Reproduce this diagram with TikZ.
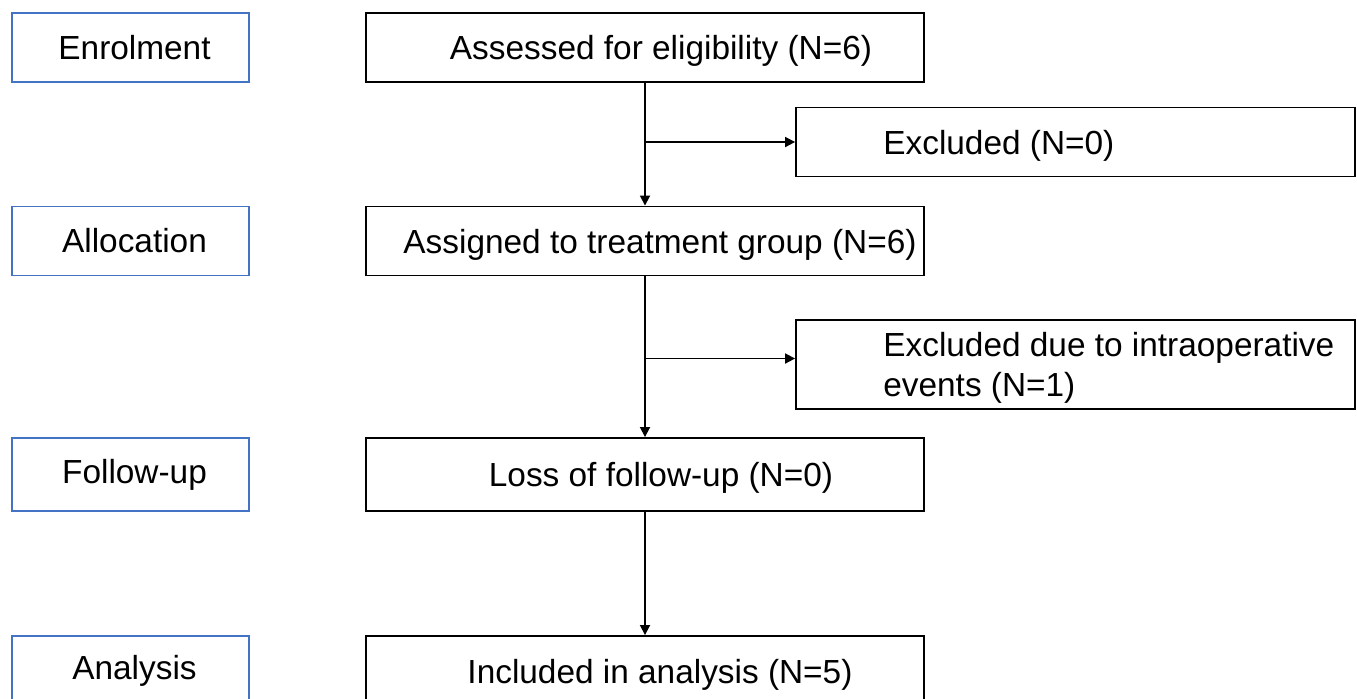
\documentclass[tikz,border=0pt]{standalone}
\usepackage{fontspec}
\setmainfont{Liberation Sans}
\usetikzlibrary{arrows.meta,positioning,calc}
\definecolor{stageblue}{RGB}{68,114,196}

\begin{document}
\begin{tikzpicture}[x=0.02cm, y=-0.02cm,
  every node/.style={font=\fontsize{19}{23}\selectfont},
  stage/.style={draw=stageblue, line width=0.8pt, inner sep=0pt,
                minimum width=4.74cm, minimum height=1.38cm,
                execute at begin node={\hspace*{0.16cm}}},
  flow/.style={draw, line width=1.1pt, inner sep=0pt,
               minimum width=11.18cm, minimum height=1.38cm},
  txt/.style={inner sep=0pt, align=left, yshift=-0.07cm},
  arr/.style={-{Triangle[length=2mm, width=2mm]}, line width=1pt}
]
\useasboundingbox (0,0) rectangle (1357,698);
\clip (0,0) rectangle (1357,698);

% stages
\node[stage] (enrol)    at (130.5, 47.5) {Enrolment};
\node[stage] (alloc)    at (130.5,241)   {Allocation};
\node[stage, minimum height=1.46cm] (follow) at (130.5,474.5) {Follow-up};
\node[stage, minimum height=1.4cm] (analysis) at (130.5,671) {Analysis};

% main column
\node[flow] (assessed) at (645, 47.5) {};
\node[txt]  (assessed-t) at (661, 47.5) {Assessed for eligibility (N=6)};
\node[flow] (assigned) at (645,241) {};
\node[txt]  (assigned-t) at (660,241) {Assigned to treatment group (N=6)};
\node[flow, minimum height=1.46cm] (loss) at (645,474.5) {};
\node[txt]  (loss-t) at (661,474.5) {Loss of follow-up (N=0)};
\node[flow, minimum height=1.4cm] (included) at (645,671) {};
\node[txt]  (included-t) at (660,671) {Included in analysis (N=5)};

% exclusions
\node[flow] (excl1) at (1075.5,142) {};
\node[txt, anchor=west] (excl1-t) at (883,142) {Excluded (N=0)};
\node[flow, minimum height=1.78cm] (excl2) at (1075.5,364.5) {};
\node[txt, anchor=west] (excl2-t) at (883,364.5) {Excluded due to intraoperative\\events (N=1)};

\draw[arr] (assessed) -- (assigned);
\draw[arr] (assigned) -- (loss);
\draw[arr] (loss) -- (included);
\draw[arr] (assessed.south |- excl1) -- (excl1.west);
\draw[arr] ($(assigned.south |- excl2)+(0,-6)$) -- ($(excl2.west)+(0,-6)$);
\end{tikzpicture}
\end{document}
